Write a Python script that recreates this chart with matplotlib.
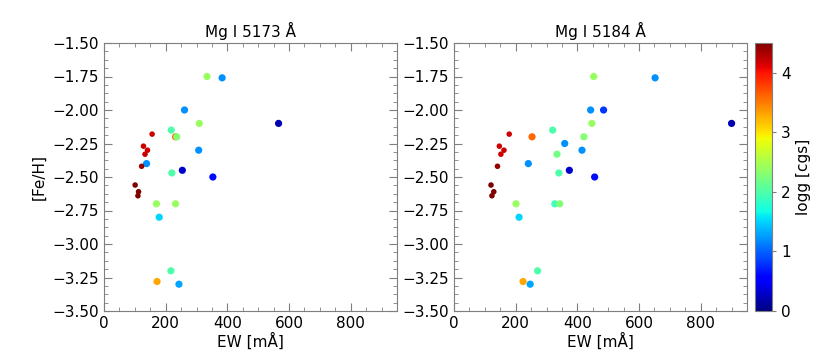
import matplotlib
matplotlib.use("Agg")
import matplotlib.pyplot as plt
import numpy as np
from matplotlib.ticker import MultipleLocator, AutoMinorLocator, FuncFormatter

# ---- data: Mg I 5173 ----
ew_5173 = [334, 383, 261, 309, 566, 218, 156, 232, 236, 128, 141, 133, 307, 138, 122,
           254, 220, 353, 101, 112, 110, 170, 232, 179, 217, 172, 243]
feh_5173 = [-1.75, -1.76, -2.00, -2.10, -2.10, -2.15, -2.18, -2.20, -2.20, -2.27, -2.30, -2.33,
            -2.30, -2.40, -2.42, -2.45, -2.47, -2.50, -2.56, -2.61, -2.64, -2.70, -2.70, -2.80,
            -3.20, -3.28, -3.30]
logg_5173 = [2.4, 1.2, 1.2, 2.4, 0.2, 2.0, 4.2, 3.6, 2.3, 4.2, 4.2, 4.2,
             1.2, 1.2, 4.4, 0.3, 2.0, 0.6, 4.5, 4.5, 4.5, 2.4, 2.4, 1.5,
             2.0, 3.3, 1.3]

# ---- data: Mg I 5184 ----
ew_5184 = [453, 652, 443, 485, 447, 900, 320, 179, 253, 421, 147, 162, 152, 359, 415,
           334, 241, 141, 374, 340, 456, 120, 129, 123, 201, 327, 343, 211, 271, 224, 247]
feh_5184 = [-1.75, -1.76, -2.00, -2.00, -2.10, -2.10, -2.15, -2.18, -2.20, -2.20, -2.27, -2.30,
            -2.33, -2.25, -2.30, -2.33, -2.40, -2.42, -2.45, -2.47, -2.50, -2.56, -2.61, -2.64,
            -2.70, -2.70, -2.70, -2.80, -3.20, -3.28, -3.30]
logg_5184 = [2.4, 1.2, 1.2, 0.8, 2.4, 0.2, 2.0, 4.2, 3.6, 2.3, 4.2, 4.2,
             4.2, 1.2, 1.2, 2.2, 1.2, 4.4, 0.3, 2.0, 0.6, 4.5, 4.5, 4.5,
             2.4, 1.9, 2.3, 1.5, 2.0, 3.3, 1.3]

titles = ["Mg I 5173 Å", "Mg I 5184 Å"]
xlabel = "EW [mÅ]"
ylabel = "[Fe/H]"
cbar_label = "logg [cgs]"

FS = 11
grey = "#7f7f7f"
fig = plt.figure(figsize=(8.3, 3.56), dpi=100)
ax1 = fig.add_axes([104/830, 45/356, 293/830, 268/356])
ax2 = fig.add_axes([454/830, 45/356, 293/830, 268/356])
cax = fig.add_axes([755/830, 45/356, 17/830, 268/356])

yfmt = FuncFormatter(lambda v, p: f"{v:.2f}".replace("-", "\u2212"))

datasets = [(ew_5173, feh_5173, logg_5173), (ew_5184, feh_5184, logg_5184)]
sc = None
for ax, (ew, feh, lg), title in zip([ax1, ax2], datasets, titles):
    lg = np.asarray(lg)
    sizes = np.where(lg > 4.0, 16, 27)
    sc = ax.scatter(ew, feh, c=lg, cmap="jet", vmin=0, vmax=4.5, s=sizes, linewidths=0)
    ax.set_xlim(0, 950)
    ax.set_ylim(-3.5, -1.5)
    ax.xaxis.set_major_locator(MultipleLocator(200))
    ax.xaxis.set_minor_locator(AutoMinorLocator(4))
    ax.yaxis.set_major_locator(MultipleLocator(0.25))
    ax.yaxis.set_minor_locator(AutoMinorLocator(4))
    ax.yaxis.set_major_formatter(yfmt)
    ax.tick_params(which="both", direction="in", top=True, right=True, color=grey,
                   labelsize=FS, labelcolor="black")
    ax.tick_params(which="major", length=6)
    ax.tick_params(which="minor", length=3)
    for sp in ax.spines.values():
        sp.set_color(grey)
    ax.set_title(title, fontsize=FS, pad=4)
    ax.set_xlabel(xlabel, fontsize=FS, labelpad=1)
ax1.set_ylabel(ylabel, fontsize=FS)

cb = fig.colorbar(sc, cax=cax)
cb.set_ticks([0, 1, 2, 3, 4])
cb.ax.tick_params(labelsize=FS, color=grey, length=3)
cb.outline.set_edgecolor(grey)
cb.set_label(cbar_label, fontsize=FS)

fig.savefig("out.png", dpi=100)
